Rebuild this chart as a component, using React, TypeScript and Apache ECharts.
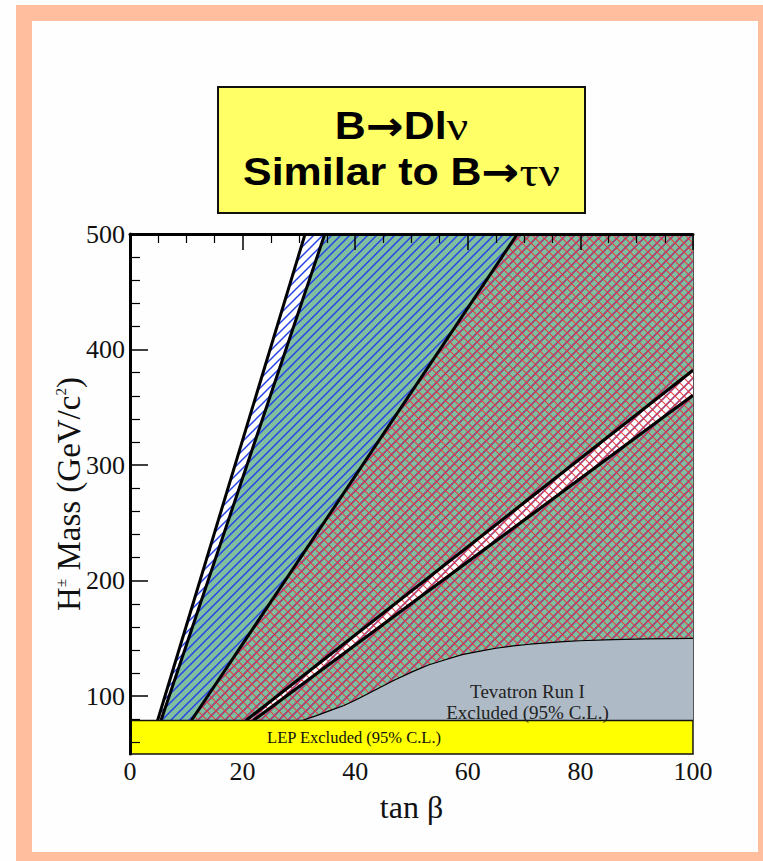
import React, { useEffect, useRef } from "react";
import * as echarts from "echarts";

// Axis ranges and tick values
const tanBetaRange = [0, 100];
const massRange = [50, 500];
const massMajorTicks = [100, 200, 300, 400, 500];
const massMinorTicks = [60, 80, 120, 140, 160, 180, 220, 240, 260, 280, 320, 340, 360, 380, 420, 440, 460, 480];

// Exclusion boundaries in (tan β, m_H± [GeV/c²])
const outerBoundary = [[4.9, 79], [31.1, 500]];
const greenBoundary = [[5.5, 79], [34.6, 500]];
const crossBoundary = [[10.9, 79], [68.8, 500]];
const bandUpper = [[20.6, 79], [100, 382]];
const bandLower = [[21.9, 79], [100, 360.5]];
const tevatronEdge = [
  [30.6, 79], [33, 83], [35.5, 87.5], [38, 92], [40, 96.5], [42, 101.5], [44.4, 107.5],
  [47, 114], [50.3, 121.5], [53, 127], [56.3, 132], [59, 136], [62.2, 139], [65, 141.5],
  [68.1, 143.5], [71, 145], [74, 146.2], [77, 147.2], [79.9, 148], [85.8, 149], [91.8, 149.6], [100, 150],
];
const lepLimit = 79;

const SERIF = "'Liberation Serif', 'Times New Roman', serif";
const SANS = "'Liberation Sans', Arial, sans-serif";

function hatch(color: string, dirs: string[], size: number, width: number) {
  const c = document.createElement("canvas");
  c.width = size;
  c.height = size;
  const g = c.getContext("2d")!;
  g.strokeStyle = color;
  g.lineWidth = width;
  g.beginPath();
  for (const d of dirs) {
    for (const k of [-1, 0, 1, 2]) {
      if (d === "/") {
        g.moveTo(-size, k * size + size);
        g.lineTo(size * 2, k * size - size * 2);
      } else {
        g.moveTo(-size, k * size - size * 2);
        g.lineTo(size * 2, k * size + size);
      }
    }
  }
  g.stroke();
  return { image: c.toDataURL(), repeat: "repeat", imageWidth: size, imageHeight: size };
}

function regionBelow(boundary: number[][]) {
  return [
    boundary[0],
    boundary[1],
    [tanBetaRange[1], massRange[1]],
    [tanBetaRange[1], massRange[0]],
    [boundary[0][0], massRange[0]],
  ];
}

function area(id: string, pts: number[][], style: any, z: number, clip = true) {
  return {
    type: "custom",
    id,
    z,
    clip,
    silent: true,
    data: pts,
    renderItem: (params: any, api: any) =>
      params.dataIndex === 0
        ? { type: "polygon", shape: { points: pts.map((p) => api.coord(p)) }, style }
        : null,
  };
}

function edge(id: string, pts: number[][], width: number, z = 6) {
  return {
    type: "line",
    id,
    data: pts,
    symbol: "none",
    silent: true,
    clip: true,
    z,
    lineStyle: { color: "#000", width },
  };
}

function label(id: string, at: number[], text: string, style: any) {
  return {
    type: "custom",
    id,
    z: 12,
    silent: true,
    data: [at],
    renderItem: (_p: any, api: any) => {
      const [x, y] = api.coord(at);
      return {
        type: "text",
        x,
        y,
        style: { text, align: "center", verticalAlign: "middle", fontFamily: SERIF, ...style },
      };
    },
  };
}

export default function App() {
  const ref = useRef<HTMLDivElement>(null);

  useEffect(() => {
    if (!ref.current) return;
    const chart = echarts.init(ref.current, null, { renderer: "svg" });

    const blueHatch = hatch("#2644e8", ["/"], 9, 1.5);
    const redHatch = hatch("rgba(236,56,56,0.92)", ["\\", "/"], 9, 1.2);

    const bandPolygon = [...bandUpper, ...[...bandLower].reverse()];
    const tevatronPolygon = [
      ...tevatronEdge,
      [tanBetaRange[1], massRange[0]],
      [tevatronEdge[0][0], massRange[0]],
    ];
    const lepPolygon = [
      [tanBetaRange[0], massRange[0]],
      [tanBetaRange[1], massRange[0]],
      [tanBetaRange[1], lepLimit],
      [tanBetaRange[0], lepLimit],
    ];

    chart.setOption({
      animation: false,
      backgroundColor: "#fefefe",
      grid: { left: 130, right: 70, top: 234, bottom: 107, show: false },
      xAxis: [
        {
          type: "value",
          position: "bottom",
          min: tanBetaRange[0],
          max: tanBetaRange[1],
          interval: 20,
          name: "tan β",
          nameLocation: "middle",
          nameGap: 37,
          nameMoveOverlap: false,
          nameTextStyle: { fontFamily: SERIF, fontSize: 32, color: "#111" },
          axisLine: { show: false },
          axisTick: { show: false },
          splitLine: { show: false },
          axisLabel: { fontFamily: SERIF, fontSize: 26, color: "#111", margin: 4 },
        },
        {
          type: "value",
          position: "top",
          min: tanBetaRange[0],
          max: tanBetaRange[1],
          interval: 20,
          z: 10,
          axisLine: { show: true, lineStyle: { color: "#000", width: 3 } },
          axisTick: { show: true, inside: true, length: 16, lineStyle: { color: "#000", width: 1.5 } },
          minorTick: { show: true, splitNumber: 4, length: 9, lineStyle: { color: "#000", width: 1.2 } },
          axisLabel: { show: false },
          splitLine: { show: false },
        },
      ],
      yAxis: [
        {
          type: "value",
          position: "left",
          min: massRange[0],
          max: massRange[1],
          z: 10,
          name: "H{sup|±} Mass (GeV/c{sup|2})",
          nameLocation: "middle",
          nameGap: 45,
          nameMoveOverlap: false,
          nameRotate: 90,
          nameTextStyle: {
            fontFamily: SERIF,
            fontSize: 33,
            color: "#111",
            rich: { sup: { fontFamily: SERIF, fontSize: 15, color: "#111", padding: [0, 0, 16, 0] } },
          },
          axisLine: { show: true, lineStyle: { color: "#000", width: 3 } },
          axisTick: {
            show: true,
            inside: true,
            length: 18,
            customValues: massMajorTicks,
            lineStyle: { color: "#000", width: 1.5 },
          },
          axisLabel: { fontFamily: SERIF, fontSize: 26, color: "#111", margin: 5, customValues: massMajorTicks },
          splitLine: { show: false },
        },
        {
          type: "value",
          position: "left",
          min: massRange[0],
          max: massRange[1],
          z: 10,
          axisLine: { show: false },
          axisTick: {
            show: true,
            inside: true,
            length: 10,
            customValues: massMinorTicks,
            lineStyle: { color: "#000", width: 1.2 },
          },
          axisLabel: { show: false },
          splitLine: { show: false },
        },
        {
          type: "value",
          position: "right",
          min: massRange[0],
          max: massRange[1],
          z: 10,
          axisLine: { show: true, lineStyle: { color: "#555", width: 1 } },
          axisTick: { show: false },
          axisLabel: { show: false },
          splitLine: { show: false },
        },
      ],
      graphic: [
        { type: "rect", z: -10, silent: true, shape: { x: 16, y: 5, width: 770, height: 880 }, style: { fill: "#ffbf9f" } },
        { type: "rect", z: -9, silent: true, shape: { x: 32, y: 21, width: 726, height: 831 }, style: { fill: "#fefefe" } },
        {
          type: "rect",
          z: 20,
          silent: true,
          shape: { x: 218, y: 87, width: 367, height: 126 },
          style: { fill: "#ffff66", stroke: "#111", lineWidth: 2 },
        },
        {
          type: "text",
          z: 21,
          silent: true,
          x: 401.5,
          y: 149,
          scaleX: 1.13,
          style: {
            text: "{b|B}{ar|→}{b|Dl}{g|ν}\n{b|Similar to B}{ar|→}{g|τν}",
            align: "center",
            verticalAlign: "middle",
            rich: {
              b: { fontFamily: SANS, fontWeight: "bold", fontSize: 38, lineHeight: 46, color: "#000" },
              ar: { fontFamily: "'DejaVu Sans', sans-serif", fontWeight: "bold", fontSize: 40, lineHeight: 46, color: "#000" },
              g: { fontFamily: SERIF, fontSize: 42, lineHeight: 46, color: "#000" },
            },
          },
        },
      ],
      series: [
        area("green", regionBelow(greenBoundary), { fill: "#80bea0" }, 2),
        area("band", bandPolygon, { fill: "#ffffff" }, 3),
        area("blueHatch", regionBelow(outerBoundary), { fill: blueHatch }, 4),
        area("redHatch", regionBelow(crossBoundary), { fill: redHatch }, 5),
        edge("outerEdge", outerBoundary, 3),
        edge("greenEdge", greenBoundary, 3),
        edge("crossEdge", crossBoundary, 3),
        edge("bandUpperEdge", bandUpper, 3.2),
        edge("bandLowerEdge", bandLower, 3.2),
        area("tevatron", tevatronPolygon, { fill: "#aebbc6" }, 7),
        edge("tevatronEdge", tevatronEdge, 1.2, 8),
        area("lep", lepPolygon, { fill: "#ffff00", stroke: "#111", lineWidth: 1.5 }, 9, false),
        label("lepLabel", [39.8, 64.5], "LEP Excluded (95% C.L.)", { fontSize: 16.5, fill: "#111" }),
        label("tevLabel", [70.6, 95], "Tevatron Run I\nExcluded (95% C.L.)", { fontSize: 19, lineHeight: 21, fill: "#222" }),
      ],
    });

    return () => chart.dispose();
  }, []);

  return <div ref={ref} style={{ position: "fixed", left: 0, top: 0, width: 763, height: 861 }} />;
}
